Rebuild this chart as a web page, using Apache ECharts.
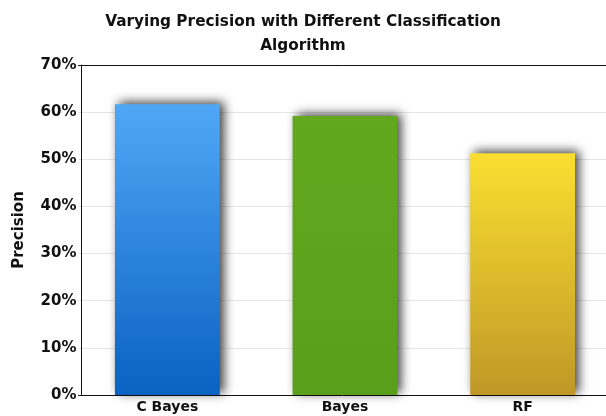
<!DOCTYPE html>
<html><head><meta charset="utf-8">
<script src="https://cdn.jsdelivr.net/npm/echarts@6/dist/echarts.min.js"></script>
<style>html,body{margin:0;padding:0;background:#fff}#c{width:606px;height:416px}</style>
</head><body><div id="c"></div>
<script>
const categories = ['C Bayes', 'Bayes', 'RF'];
const precision = [61.7, 59.2, 51.3];
const yTicks = [0, 10, 20, 30, 40, 50, 60, 70];
const titleText = 'Varying Precision with Different Classification\nAlgorithm';

const gradients = [
  ['#4FA8F6', '#0A62C2'],
  ['#62A81E', '#5A9F1B'],
  ['#FADF30', '#C09828']
];
const FONT = 'DejaVu Sans';
const chart = echarts.init(document.getElementById('c'));
chart.setOption({
  animation: false,
  title: {
    text: titleText, left: 'center', top: 5,
    textStyle: { fontFamily: FONT, fontWeight: 'bold', fontSize: 15.3, color: '#111', lineHeight: 24 }
  },
  grid: { left: 78.5, width: 533, top: 65, bottom: 21, outerBoundsMode: 'none', containLabel: false },
  xAxis: [{
    type: 'category', data: categories,
    axisLine: { lineStyle: { color: '#111', width: 1 } },
    axisTick: { show: false },
    axisLabel: { fontFamily: FONT, fontWeight: 'bold', fontSize: 14, color: '#111', margin: 5 }
  }, {
    type: 'category', data: categories, position: 'top',
    axisLine: { show: true, lineStyle: { color: '#111', width: 1 } },
    axisTick: { show: false }, axisLabel: { show: false }, splitLine: { show: false }
  }],
  yAxis: {
    type: 'value', min: yTicks[0], max: yTicks[yTicks.length - 1], interval: 10, offset: -3,
    name: 'Precision', nameLocation: 'middle', nameGap: 55, nameRotate: 90,
    nameTextStyle: { fontFamily: FONT, fontWeight: 'bold', fontSize: 15, color: '#111' },
    axisLine: { show: true, lineStyle: { color: '#111' } },
    axisTick: { show: false },
    axisLabel: { formatter: v => v + '%', fontFamily: FONT, fontWeight: 'bold', fontSize: 15, color: '#111', margin: 5 },
    splitLine: { lineStyle: { color: '#e6e6e6', width: 1 } }
  },
  series: [{
    type: 'bar', barWidth: '59%', xAxisIndex: 0,
    data: precision.map((v, i) => ({
      value: v,
      itemStyle: {
        color: new echarts.graphic.LinearGradient(0, 0, 0, 1, [
          { offset: 0, color: gradients[i][0] }, { offset: 1, color: gradients[i][1] }
        ]),
        shadowColor: 'rgba(0,0,0,0.75)', shadowBlur: 10, shadowOffsetX: 4, shadowOffsetY: -2
      }
    }))
  }]
});
</script></body></html>
